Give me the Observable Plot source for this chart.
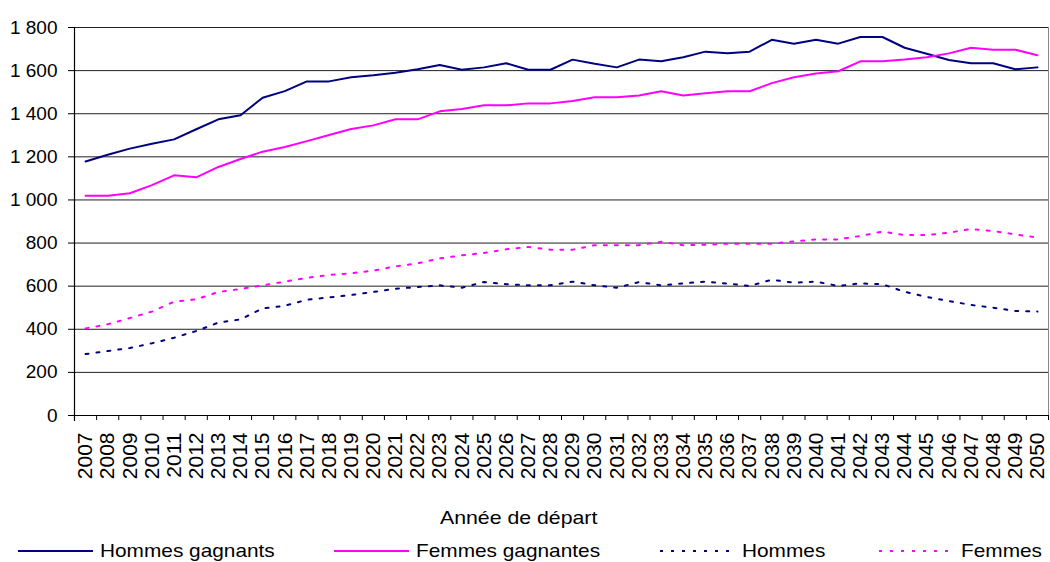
<!DOCTYPE html>
<html>
<head>
<meta charset="utf-8">
<script src="https://cdn.jsdelivr.net/npm/d3@7"></script>
<script src="https://cdn.jsdelivr.net/npm/@observablehq/plot@0.6"></script>
<style>
  html, body { margin: 0; padding: 0; background: #fff; }
  #wrap { position: relative; width: 1050px; height: 562px; font-family: "Liberation Sans", Arial, sans-serif; color: #000; }
  #title { position: absolute; left: 440px; top: 506px; font-size: 19px; line-height: 24px; white-space: nowrap; transform: scaleX(1.12); transform-origin: left center; }
  .leg { position: absolute; top: 539px; height: 24px; display: flex; align-items: center; font-size: 18.6px; white-space: nowrap; }
  .leg svg { margin-right: 7px; }
  .leg span { display: inline-block; transform: scaleX(1.12); transform-origin: left center; }
</style>
</head>
<body>
<div id="wrap">
  <div id="chart"></div>
  <div id="title">Année de départ</div>
  <div id="legend"></div>
</div>
<script>
const years = [2007,2008,2009,2010,2011,2012,2013,2014,2015,2016,2017,2018,2019,2020,2021,2022,2023,2024,2025,2026,2027,2028,2029,2030,2031,2032,2033,2034,2035,2036,2037,2038,2039,2040,2041,2042,2043,2044,2045,2046,2047,2048,2049,2050];

const hommesGagnants = [1178,1210,1238,1261,1281,1328,1374,1393,1474,1505,1550,1550,1569,1578,1590,1606,1626,1604,1615,1634,1604,1604,1651,1632,1615,1651,1643,1662,1688,1680,1688,1743,1725,1743,1725,1756,1756,1706,1678,1649,1634,1634,1606,1615];

const femmesGagnantes = [1020,1020,1031,1069,1114,1105,1153,1190,1224,1246,1273,1301,1329,1346,1374,1374,1411,1422,1439,1439,1448,1448,1459,1476,1476,1485,1504,1485,1495,1504,1504,1542,1569,1587,1597,1643,1643,1652,1662,1680,1706,1697,1697,1671];

const hommes = [285,299,313,335,361,392,431,446,497,509,537,548,559,573,588,596,604,593,619,609,604,604,621,604,593,619,604,613,621,612,601,630,616,621,601,613,609,574,550,531,513,500,485,482];

const femmes = [404,423,452,482,528,539,573,587,604,621,639,652,660,672,692,706,729,743,754,771,782,769,769,790,790,790,806,790,792,797,797,797,808,817,817,833,853,837,837,848,865,856,840,826];

const yTicks = [0,200,400,600,800,1000,1200,1400,1600,1800];
const yTickLabels = ["0","200","400","600","800","1 000","1 200","1 400","1 600","1 800"];

const seriesNames = ["Hommes gagnants","Femmes gagnantes","Hommes","Femmes"];
const seriesColors = ["#000080","#FF00FF","#000080","#FF00FF"];
const seriesDashed = [false,false,true,true];
const seriesValues = [hommesGagnants, femmesGagnantes, hommes, femmes];

const xMin = years[0] - 0.5, xMax = years[years.length - 1] + 0.5;
const boundaries = years.map(y => y - 0.5).concat([xMax]);

const lineMarks = seriesValues.map((vals, k) =>
  Plot.line(years, {
    x: d => d,
    y: (d, i) => vals[i],
    stroke: seriesColors[k],
    strokeWidth: 2,
    strokeDasharray: seriesDashed[k] ? "3,8" : null,
    strokeLinejoin: "miter",
    curve: "linear"
  })
);

const chart = Plot.plot({
  width: 1050,
  height: 490,
  marginLeft: 74,
  marginRight: 2,
  marginTop: 27,
  marginBottom: 75,
  x: { type: "linear", domain: [xMin, xMax] },
  y: { domain: [0, 1800] },
  style: { fontFamily: "'Liberation Sans', Arial, sans-serif", color: "#000", background: "#fff", overflow: "visible" },
  marks: [
    Plot.ruleY(yTicks.slice(1), { stroke: "#222", strokeWidth: 1 }),
    Plot.ruleX([xMax], { stroke: "#888", strokeWidth: 1 }),
    Plot.axisY({
      ticks: yTicks,
      tickFormat: d => yTickLabels[yTicks.indexOf(d)],
      tickSize: 6,
      tickPadding: 11,
      label: null,
      fontSize: 19,
      stroke: "#000"
    }),
    Plot.axisX({
      ticks: years,
      tickFormat: d => String(d),
      tickRotate: -90,
      tickSize: 0,
      tickPadding: 17,
      label: null,
      fontSize: 21
    }),
    Plot.axisX({
      ticks: boundaries,
      tickFormat: () => "",
      tickSize: 5,
      label: null,
      stroke: "#000"
    }),
    Plot.ruleX([xMin], { stroke: "#000", strokeWidth: 1.2, insetBottom: -6 }),
    Plot.ruleY([0], { stroke: "#000", strokeWidth: 1.2 }),
    ...lineMarks
  ]
});
document.getElementById("chart").appendChild(chart);

// Legend
const legendLefts = [18, 334, 660, 879];
const legend = document.getElementById("legend");
seriesNames.forEach((name, k) => {
  const item = document.createElement("div");
  item.className = "leg";
  item.style.left = legendLefts[k] + "px";
  const dash = seriesDashed[k] ? ' stroke-dasharray="3,8"' : '';
  item.innerHTML = `<svg width="75" height="10"><line x1="0" y1="5" x2="75" y2="5" stroke="${seriesColors[k]}" stroke-width="2"${dash}/></svg><span>${name}</span>`;
  legend.appendChild(item);
});
</script>
</body>
</html>
